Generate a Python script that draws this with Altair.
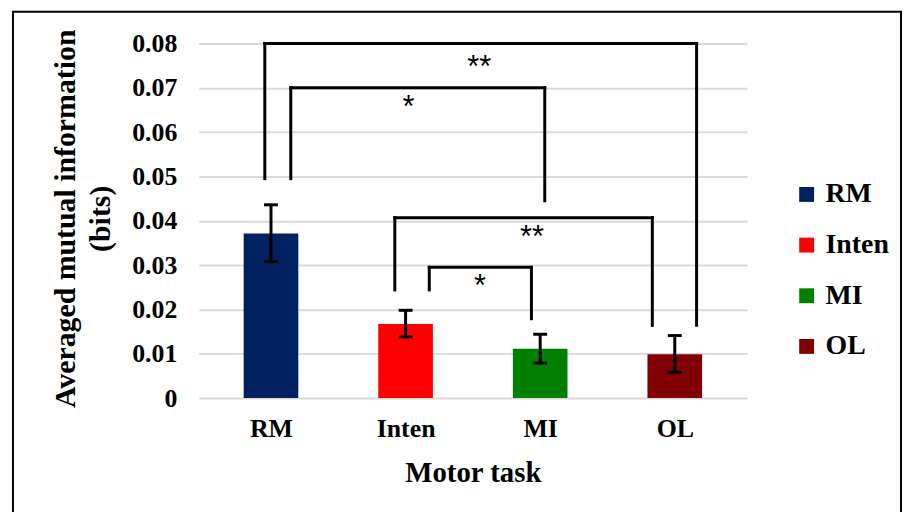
import json
import altair as alt
import pandas as pd

# ---- data ----
tasks = ["RM", "Inten", "MI", "OL"]
positions = [1, 2, 3, 4]
mean_mi = [0.0371, 0.0167, 0.0111, 0.0099]
err_low = [0.0308, 0.0138, 0.0079, 0.0058]
err_high = [0.0436, 0.0198, 0.0144, 0.0141]
colors = ["#002060", "#FF0000", "#008000", "#7F0000"]
y_ticks = [0, 0.01, 0.02, 0.03, 0.04, 0.05, 0.06, 0.07, 0.08]

# significance brackets (x in category units, y in bits)
br_left = [0.954, 1.147, 1.920, 2.176]
br_right = [4.162, 3.034, 3.833, 2.935]
br_top = [0.0800, 0.0700, 0.0407, 0.0295]
br_bot_left = [0.0495, 0.0495, 0.0244, 0.0244]
br_bot_right = [0.0164, 0.0445, 0.0164, 0.0179]
star_x = [2.548, 2.022, 2.940, 2.553]
star_y = [0.0757, 0.0667, 0.0374, 0.0263]
star_text = ["**", "*", "**", "*"]

# ---- tables ----
bars = pd.DataFrame({"pos": positions, "task": tasks, "mean": mean_mi,
                     "lo": err_low, "hi": err_high})
segs = []
for xl, xr, yt, ybl, ybr in zip(br_left, br_right, br_top, br_bot_left, br_bot_right):
    segs.append({"x": xl, "x2": xl, "y": ybl, "y2": yt})
    segs.append({"x": xl, "x2": xr, "y": yt, "y2": yt})
    segs.append({"x": xr, "x2": xr, "y": ybr, "y2": yt})
segs = pd.DataFrame(segs)
stars = pd.DataFrame({"x": star_x, "y": star_y, "t": star_text})

SERIF = "Liberation Serif"

xscale = alt.Scale(domain=[0.5, 4.5], nice=False, zero=False)
yscale = alt.Scale(domain=[0, 0.08], nice=False)

x_axis = alt.Axis(
    values=positions,
    labelExpr=f"{json.dumps(tasks)}[datum.value - 1]",
    grid=False, domain=False, ticks=False,
    labelFont=SERIF, labelFontWeight="bold", labelFontSize=26, labelColor="black",
    labelPadding=18,
    title="Motor task", titleFont=SERIF, titleFontWeight="bold", titleFontSize=29,
    titleColor="black", titleY=75, titleBaseline="middle",
)
y_axis = alt.Axis(
    values=y_ticks,
    labelExpr="format(datum.value, '.2~f')",
    grid=True, gridColor="#d9d9d9", gridWidth=2,
    domain=False, ticks=False,
    labelFont=SERIF, labelFontWeight="bold", labelFontSize=26, labelColor="black",
    labelPadding=22,
    title=["Averaged mutual information", "(bits)"],
    titleFont=SERIF, titleFontWeight="bold", titleFontSize=30, titleColor="black",
    titleLineHeight=35, titleAngle=270, titleBaseline="middle", titleAlign="center",
    titleX=-134, titleY=176,
)

base = alt.Chart(bars)

bar = base.mark_bar(size=55).encode(
    x=alt.X("pos:Q", scale=xscale, axis=x_axis),
    y=alt.Y("mean:Q", scale=yscale, axis=y_axis),
    color=alt.Color(
        "task:N",
        scale=alt.Scale(domain=tasks, range=colors),
        legend=alt.Legend(
            title=None, orient="none", legendX=598, legendY=138, padding=0,
            symbolType="square", symbolSize=225, symbolStrokeWidth=0,
            labelFont=SERIF, labelFontWeight="bold", labelFontSize=28,
            labelColor="black", labelOffset=5, rowPadding=23,
        ),
    ),
)

err_rule = base.mark_rule(color="black", strokeWidth=3).encode(
    x=alt.X("pos:Q", scale=xscale), y=alt.Y("lo:Q", scale=yscale), y2="hi:Q"
)
cap_lo = base.mark_tick(orient="horizontal", size=14, thickness=3, color="black", opacity=1).encode(
    x=alt.X("pos:Q", scale=xscale), y=alt.Y("lo:Q", scale=yscale)
)
cap_hi = base.mark_tick(orient="horizontal", size=14, thickness=3, color="black", opacity=1).encode(
    x=alt.X("pos:Q", scale=xscale), y=alt.Y("hi:Q", scale=yscale)
)

brackets = alt.Chart(segs).mark_rule(color="black", strokeWidth=3, strokeCap="square").encode(
    x=alt.X("x:Q", scale=xscale), x2="x2:Q",
    y=alt.Y("y:Q", scale=yscale), y2="y2:Q",
)

star_marks = alt.Chart(stars).mark_text(
    font="Liberation Sans", fontSize=31, color="black", baseline="middle", align="center",
    dy=6,
).encode(
    x=alt.X("x:Q", scale=xscale), y=alt.Y("y:Q", scale=yscale), text="t:N"
)

frame = alt.Chart(pd.DataFrame({"k": [0]})).mark_rect(
    filled=False, stroke="black", strokeWidth=2
).encode(
    x=alt.value(-187), x2=alt.value(707), y=alt.value(-32), y2=alt.value(480)
)

chart = alt.layer(frame, bar, err_rule, cap_lo, cap_hi, brackets, star_marks).properties(
    width=552, height=357,
    autosize=alt.AutoSizeParams(type="none"),
    padding={"left": 192, "top": 34, "right": 157, "bottom": 113},
    background="white",
).configure_view(stroke=None)

chart.save("out.html", embed_options={"renderer": "svg", "actions": False})
